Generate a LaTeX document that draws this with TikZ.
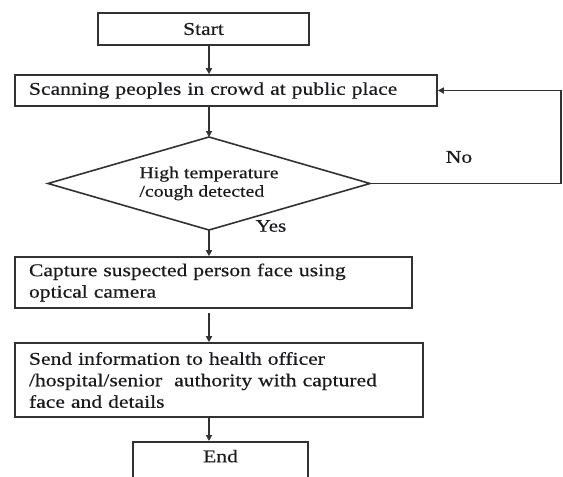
\documentclass[tikz,border=0pt]{standalone}
\usepackage{fontspec}
\setmainfont{Liberation Serif}[FakeStretch=1.2,FakeBold=0.4]
\usetikzlibrary{shapes.geometric,arrows.meta}
\definecolor{linec}{RGB}{50,50,50}
\definecolor{textc}{RGB}{25,25,30}
\newcommand\mywidespace{\spaceskip=0.33em plus 0.1em minus 0.05em\relax}
\begin{document}
\begin{tikzpicture}[x=1pt,y=-1pt,
  box/.style={draw=linec, line width=1.6pt, rectangle, inner ysep=0pt, inner xsep=14pt, text=textc},
  txt/.style={font=\fontsize{18}{21.5}\selectfont\mywidespace, text=textc},
  arr/.style={draw=linec, line width=1.6pt, -{Triangle[length=6pt,width=6pt]}}]
\useasboundingbox (0,0) rectangle (563,477);
\clip (0,0) rectangle (563,477);

\node[box, txt, minimum width=211pt, minimum height=32pt, inner xsep=0pt] (start) at (203.5,29) {Start};
\node[box, txt, minimum width=422pt, minimum height=31pt, text width=394pt, align=left] (scan) at (226,90.5) {Scanning peoples in crowd at public place};
\node[diamond, aspect=3.46, draw=linec, line width=1.6pt, inner sep=0pt, outer sep=0pt,
      minimum width=322pt, minimum height=93pt, align=left, text=textc,
      font=\fontsize{16.5}{18.5}\selectfont] (dec) at (209,183.5) {High temperature\\/cough detected};
\node[box, txt, minimum width=397pt, minimum height=51pt, text width=369pt, align=left] (cap) at (213.5,282.5) {Capture suspected person face using\\optical camera};
\node[box, txt, minimum width=408pt, minimum height=74pt, text width=380pt, align=left] (send) at (219,380) {Send information to health officer\\/hospital/senior~ authority with captured\\face and details};
\node[box, txt, minimum width=175pt, anchor=north, inner ysep=8pt, inner xsep=0pt, text depth=45pt] (end) at (220.5,441) {End};

\coordinate (corner) at (561,183.5);

\draw[arr] (start.south -| dec.north) -- (scan.north -| dec.north);
\draw[arr] (scan.south -| dec.north) -- (dec.north);
\draw[arr] (dec.south) -- (cap.north -| dec.south);
\draw[arr, shorten <=4pt] (cap.south -| dec.south) -- (send.north -| dec.south);
\draw[arr] (send.south -| dec.south) -- (end.north -| dec.south);
\draw[arr] (dec.east) -- (corner) |- (scan.east);

\node[txt] (no) at (459,157) {No};
\node[font=\fontsize{17.5}{20}\selectfont, text=textc] (yes) at (271,226) {Yes};
\end{tikzpicture}
\end{document}
